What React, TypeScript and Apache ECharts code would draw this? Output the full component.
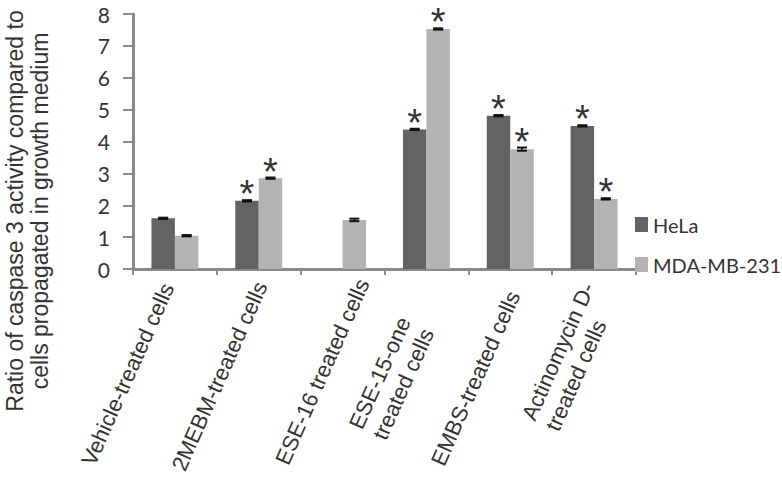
import React, { useEffect, useRef } from "react";
import * as echarts from "echarts";

const categories = [
  "Vehicle-treated cells",
  "2MEBM-treated cells",
  "ESE-16 treated cells",
  "ESE-15-one\ntreated cells",
  "EMBS-treated cells",
  "Actinomycin D-\ntreated cells",
];
const helaValues: (number | null)[] = [1.59, 2.14, null, 4.38, 4.81, 4.49];
const mdaValues: number[] = [1.045, 2.85, 1.54, 7.53, 3.76, 2.2];
const helaErrors: number[] = [0.02, 0.02, 0, 0.02, 0.02, 0.02];
const mdaErrors: number[] = [0.02, 0.02, 0.04, 0.02, 0.05, 0.02];
const helaSignificant: boolean[] = [false, true, false, true, true, true];
const mdaSignificant: boolean[] = [false, true, false, true, true, true];
const yTicks = [0, 1, 2, 3, 4, 5, 6, 7, 8];
const seriesNames = ["HeLa", "MDA-MB-231"];

// layout: per-label padding (top, right, bottom, left) in the rotated text frame
const labelPadding: number[][] = [
  [0, 15, 2, 0],
  [14, 10, 0, 0],
  [45, 0, 0, 0],
  [24, 24, 0, 0],
  [24, 18, 0, 0],
  [26, 14, 0, 0],
];

const DARK = "#636363";
const LIGHT = "#b3b3b3";
const AXIS = "#8a8a8a";
const TEXT = "#333333";
const BAR_FRAC = 0.28;
const XFONT = 22;

function makeOverlay(values: (number | null)[], errors: number[], sig: boolean[], side: number) {
  return {
    type: "custom",
    silent: true,
    z: 5,
    data: values.map((v, i) => [i, v == null ? 0 : v, errors[i], sig[i] ? 1 : 0, v == null ? 0 : 1]),
    renderItem: (params: any, api: any) => {
      const idx = api.value(0);
      const val = api.value(1);
      const err = api.value(2);
      const s = api.value(3);
      const has = api.value(4);
      if (!has) return { type: "group", children: [] };
      const band = api.size([1, 0])[0];
      const center = api.coord([idx, val]);
      const x = center[0] + side * band * BAR_FRAC / 2;
      const yTop = api.coord([idx, val + err])[1];
      const yBot = api.coord([idx, val - err])[1];
      const capW = 5;
      const children: any[] = [
        { type: "line", shape: { x1: x, y1: yTop, x2: x, y2: yBot }, style: { stroke: "#111", lineWidth: 1.5 } },
        { type: "line", shape: { x1: x - capW, y1: yTop, x2: x + capW, y2: yTop }, style: { stroke: "#111", lineWidth: 2 } },
        { type: "line", shape: { x1: x - capW, y1: yBot, x2: x + capW, y2: yBot }, style: { stroke: "#111", lineWidth: 2 } },
      ];
      if (s) {
        children.push({
          type: "text",
          x: x,
          y: yTop - 6,
          style: {
            text: "*",
            fontSize: 38,
            fontFamily: "Liberation Sans",
            fill: "#333",
            align: "center",
            verticalAlign: "middle",
          },
        });
      }
      return { type: "group", children };
    },
  };
}

function measure(text: string, font: string): number {
  const c = document.createElement("canvas").getContext("2d");
  if (!c) return text.length * 11;
  c.font = font;
  return Math.ceil(c.measureText(text).width);
}

export default function App() {
  const ref = useRef<HTMLDivElement>(null);
  useEffect(() => {
    if (!ref.current) return;
    const chart = echarts.init(ref.current, undefined, { renderer: "svg" });
    const font = `${XFONT}px "Liberation Sans"`;
    let maxW = 0;
    categories.forEach((c) => {
      if (c.includes("\n")) c.split("\n").forEach((l) => (maxW = Math.max(maxW, measure(l, font))));
    });
    chart.setOption({
      animation: false,
      backgroundColor: "#ffffff",
      grid: { left: 133, top: 14, width: 503, height: 255, containLabel: false },
      legend: {
        orient: "vertical",
        left: 630,
        top: 209.5,
        itemWidth: 13,
        itemHeight: 15,
        itemGap: 20,
        icon: "rect",
        data: seriesNames,
        textStyle: { fontFamily: "Lato", fontSize: 20, color: TEXT, padding: [0, 0, 0, 0] },
      },
      graphic: [
        {
          type: "text",
          x: 27.5,
          y: 211,
          rotation: Math.PI / 2,
          style: {
            text: "Ratio of caspase 3 activity compared to\ncells propagated in growth medium",
            fontFamily: "Liberation Sans",
            fontSize: 23,
            lineHeight: 25,
            fill: TEXT,
            align: "center",
            verticalAlign: "middle",
            textAlign: "center",
            textVerticalAlign: "middle",
          },
        },
      ],
      xAxis: {
        type: "category",
        data: categories.map((c, i) => ({ value: c, textStyle: { padding: labelPadding[i] } })),
        axisLine: { lineStyle: { color: AXIS, width: 3 } },
        axisTick: { show: true, length: 6, lineStyle: { color: AXIS, width: 2 } },
        axisLabel: {
          rotate: 66,
          interval: 0,
          margin: 2,
          fontFamily: "Liberation Sans",
          fontSize: XFONT,
          lineHeight: 26,
          color: TEXT,
          formatter: (v: string) =>
            v.includes("\n") ? v.split("\n").map((l) => `{m|${l}}`).join("\n") : v,
          rich: {
            m: {
              width: maxW,
              align: "left",
              fontFamily: "Liberation Sans",
              fontSize: XFONT,
              lineHeight: 26,
              color: TEXT,
            },
          },
        },
      },
      yAxis: {
        type: "value",
        min: yTicks[0],
        max: yTicks[yTicks.length - 1],
        interval: 1,
        splitLine: { show: false },
        axisLine: { show: true, lineStyle: { color: AXIS, width: 3 } },
        axisTick: { show: true, length: 10, lineStyle: { color: AXIS, width: 2 } },
        axisLabel: { margin: 23, fontFamily: "Lato", fontSize: 21, color: TEXT },
      },
      series: [
        {
          name: seriesNames[0],
          type: "bar",
          data: helaValues.map((v) => (v == null ? "-" : v)),
          barWidth: BAR_FRAC * 100 + "%",
          barGap: "0%",
          itemStyle: { color: DARK },
        },
        {
          name: seriesNames[1],
          type: "bar",
          data: mdaValues,
          barWidth: BAR_FRAC * 100 + "%",
          barGap: "0%",
          itemStyle: { color: LIGHT },
        },
        makeOverlay(helaValues, helaErrors, helaSignificant, -1),
        makeOverlay(mdaValues, mdaErrors, mdaSignificant, 1),
      ],
    });
    return () => chart.dispose();
  }, []);
  return <div ref={ref} style={{ position: "fixed", left: 0, top: 0, width: 782, height: 484 }} />;
}
